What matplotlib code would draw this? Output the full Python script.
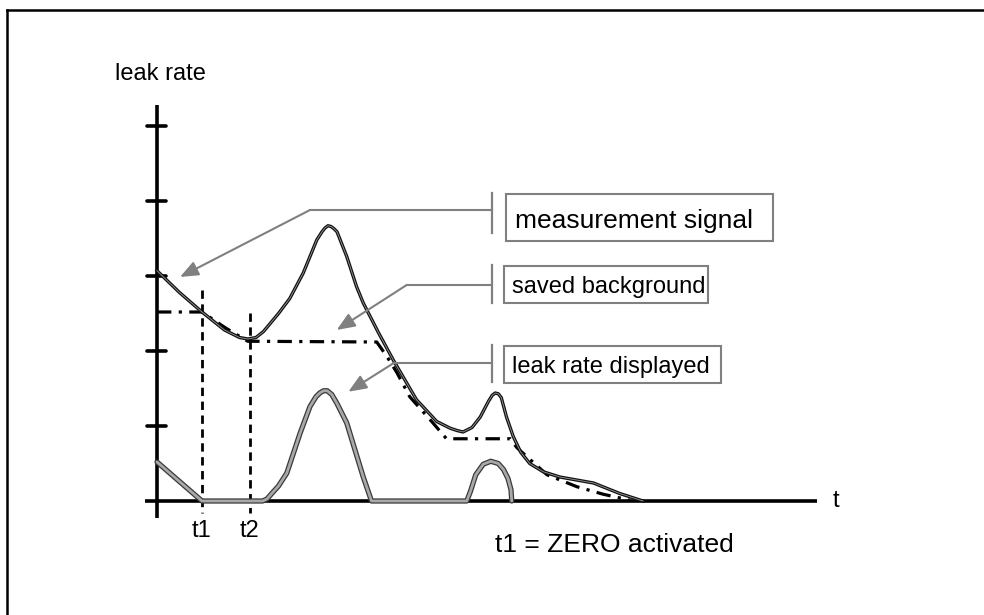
import matplotlib
matplotlib.use('Agg')
import matplotlib.pyplot as plt
from matplotlib.patches import Rectangle, FancyArrowPatch
from matplotlib.lines import Line2D

plt.rcParams['font.family'] = ['Liberation Sans', 'DejaVu Sans']

# data (time in arbitrary units, leak rate in tick units)
signal_t = [0, 0.3, 0.6, 0.9, 1.1, 1.21, 1.32, 1.42, 1.62, 1.77, 1.95, 2.04, 2.13, 2.2, 2.24, 2.28,
            2.32, 2.36, 2.4, 2.53, 2.66, 2.75, 2.95, 3.15, 3.46, 3.73, 3.91, 4.0, 4.08, 4.2, 4.31,
            4.42, 4.47, 4.51, 4.55, 4.59, 4.66, 4.75, 4.85, 4.97, 5.15, 5.37, 5.82, 6.17, 6.48]
signal_v = [3.07, 2.78, 2.52, 2.28, 2.18, 2.16, 2.18, 2.26, 2.5, 2.7, 3.04, 3.26, 3.48, 3.59, 3.64, 3.67,
            3.66, 3.63, 3.59, 3.26, 2.86, 2.64, 2.25, 1.88, 1.35, 1.06, 0.97, 0.94, 0.92, 0.98, 1.12,
            1.33, 1.41, 1.44, 1.43, 1.38, 1.12, 0.86, 0.65, 0.5, 0.39, 0.32, 0.24, 0.1, 0.0]

background_t = [0, 0.6, 0.91, 1.21, 2.93, 3.07, 3.2, 3.37, 3.68, 3.86, 4.71, 4.8, 5.2, 5.6, 5.95, 6.31]
background_v = [2.52, 2.52, 2.31, 2.13, 2.12, 1.92, 1.71, 1.39, 1.04, 0.83, 0.83, 0.71, 0.35, 0.19, 0.09, 0.01]

display_t = [0, 0.6, 1.41, 1.47, 1.53, 1.62, 1.73, 1.91, 2.04, 2.12, 2.17, 2.22, 2.27, 2.33, 2.4,
             2.53, 2.64, 2.75, 2.86, 4.13, 4.18, 4.25, 4.35, 4.45, 4.55, 4.62, 4.68, 4.72, 4.73]
display_v = [0.52, 0, 0, 0.03, 0.1, 0.2, 0.37, 0.91, 1.26, 1.39, 1.44, 1.47, 1.47, 1.42, 1.3,
             1.04, 0.68, 0.32, 0, 0, 0.13, 0.35, 0.49, 0.53, 0.5, 0.42, 0.3, 0.15, 0]

y_ticks = [1, 2, 3, 4, 5]
t_marks = [0.6, 1.24]
t_labels = ['t1', 't2']
t_mark_tops = [2.81, 2.51]

callouts = ['measurement signal', 'saved background', 'leak rate displayed']
arrow_tips = [(0.307, 2.987), (2.396, 2.28), (2.551, 1.457)]

fig = plt.figure(figsize=(9.84, 6.15), dpi=100)
ax = fig.add_axes([0, 0, 1, 1])
ax.set_xlim(-157 / 75, (984 - 157) / 75)
ax.set_ylim((501 - 615) / 75, 501 / 75)
ax.axis('off')

# frame (only top and left edges show)
fx = 7 / 984
fy = 1 - 10 / 615
fig.add_artist(Line2D([fx, fx], [0, fy], color='black', lw=1.8, transform=fig.transFigure))
fig.add_artist(Line2D([fx, 1], [fy, fy], color='black', lw=1.8, transform=fig.transFigure))

# axes
ax.plot([-0.16, 8.8], [0, 0], color='black', lw=2.6, solid_capstyle='butt', zorder=2)
ax.plot([0, 0], [-0.23, 5.28], color='black', lw=2.6, solid_capstyle='butt', zorder=2)
for yt in y_ticks:
    ax.plot([-0.13, 0.12], [yt, yt], color='black', lw=2.6, solid_capstyle='round')

# t1 / t2 markers
for tm, top, lab in zip(t_marks, t_mark_tops, t_labels):
    ax.plot([tm, tm], [top, -0.16], color='black', lw=2.0, linestyle=(0, (3, 2)), zorder=3)
    ax.text(tm, -0.48, lab, fontsize=17, ha='center', va='baseline')

# curves
ax.plot(signal_t, signal_v, color='#111111', lw=2.4, solid_joinstyle='round', zorder=5)
ax.plot(signal_t, signal_v, color='#9a9a9a', lw=0.6, solid_joinstyle='round', zorder=6)

ax.plot(background_t, background_v, color='black', lw=2.3,
        linestyle=(0, (4.5, 2.3, 1, 2.3)), zorder=4)

ax.plot(display_t, display_v, color='#3a3a3a', lw=3.8, solid_joinstyle='round',
        solid_capstyle='round', zorder=7)
ax.plot(display_t, display_v, color='#a8a8a8', lw=2.0, solid_joinstyle='round',
        solid_capstyle='round', zorder=8)

# text labels
ax.text(-0.56, 5.613, 'leak rate', fontsize=17, ha='left', va='baseline')
ax.text(9.01, -0.08, 't', fontsize=17, ha='left', va='baseline')
ax.text(4.507, -0.676, 't1 = ZERO activated', fontsize=19, ha='left', va='baseline')

# callout boxes with leader lines
gray = '#808080'
boxes = [(4.653, 3.467, 3.56, 0.626), (4.627, 2.64, 2.72, 0.493), (4.627, 1.573, 2.893, 0.494)]
bars = [(3.573, 4.107), (2.64, 3.147), (1.587, 2.08)]
leader_y = [3.88, 2.88, 1.836]
corners_x = [2.04, 3.329, 3.151]
text_base = [3.64, 2.769, 1.703]
text_left = [4.773, 4.733, 4.733]
text_size = [19, 17, 17]
bar_x = 4.467

for i, lab in enumerate(callouts):
    x0, y0, w, h = boxes[i]
    ax.add_patch(Rectangle((x0, y0), w, h, fill=False, edgecolor=gray, lw=1.5, zorder=9))
    ax.text(text_left[i], text_base[i], lab, fontsize=text_size[i], ha='left', va='baseline', zorder=10)
    ax.plot([bar_x, bar_x], bars[i], color=gray, lw=1.6, zorder=9)
    ax.plot([bar_x, corners_x[i]], [leader_y[i], leader_y[i]], color=gray, lw=1.5, zorder=9)
    arr = FancyArrowPatch((corners_x[i], leader_y[i]), arrow_tips[i],
                          arrowstyle='-|>,head_length=11,head_width=4.5', mutation_scale=1,
                          color=gray, lw=1.5, shrinkA=0, shrinkB=0, zorder=9)
    ax.add_patch(arr)

plt.savefig('out.png', dpi=100)
